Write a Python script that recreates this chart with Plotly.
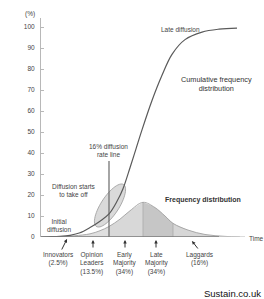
import numpy as np
import plotly.graph_objects as go

# ---- data (time units, percent) ----
cum_t = [0, 7, 19, 29, 39, 49, 59, 68, 76, 82, 89, 95, 101, 111, 121, 131, 144, 161, 178, 196]
cum_v = [0, 0.1, 0.3, 0.8, 2, 4.5, 7.5, 11, 17, 23, 33, 42, 51, 65, 77, 87, 94, 97.6, 99, 99.5]

freq_t = [14, 24, 34, 49, 59, 68, 79, 89, 102, 114, 124, 132, 147, 164, 184, 199]
freq_v = [0, 0.2, 0.6, 1.5, 3, 5, 8.5, 12.5, 16.5, 14, 10, 6.5, 3.3, 1.2, 0.3, 0]

# segment boundaries (indices into freq arrays): innovators | leaders | early | late | laggards
seg_bounds = [(0, 2), (2, 5), (5, 8), (8, 11), (11, 15)]
seg_colors = ["#e8e8e8", "#dfdfdf", "#d8d8d8", "#c6c6c6", "#d6d6d6"]

yticks = [0, 10, 20, 30, 40, 50, 60, 70, 80, 90, 100]

groups = ["Innovators<br>(2.5%)", "Opinion<br>Leaders<br>(13.5%)", "Early<br>Majority<br>(34%)",
          "Late<br>Majority<br>(34%)", "Laggards<br>(16%)"]

FONT = "Arial, Liberation Sans, sans-serif"
PXY = 2.1  # px per percent
L, T, R, B = 41, 18, 245, 237  # plot area in page pixels


def px2paper(px, py):
    return (px - L) / (R - L), (B - py) / (B - T)


fig = go.Figure()

for (a, b), col in zip(seg_bounds, seg_colors):
    fig.add_trace(go.Scatter(x=freq_t[a:b + 1], y=freq_v[a:b + 1], mode="lines",
                             line=dict(shape="spline", width=0, color=col),
                             fill="tozeroy", fillcolor=col, hoverinfo="skip", showlegend=False))

for i in (8, 11):
    fig.add_trace(go.Scatter(x=[freq_t[i], freq_t[i]], y=[0, freq_v[i]], mode="lines",
                             line=dict(color="#aaaaaa", width=0.8), hoverinfo="skip", showlegend=False))

fig.add_trace(go.Scatter(x=freq_t, y=freq_v, mode="lines",
                         line=dict(shape="spline", width=0.9, color="#a0a0a0"),
                         hoverinfo="skip", showlegend=False))

# 16% diffusion rate line
fig.add_trace(go.Scatter(x=[freq_t[5], freq_t[5]], y=[0, 36.2], mode="lines",
                         line=dict(color="#6a6a6a", width=1.2), hoverinfo="skip", showlegend=False))

# cumulative curve
fig.add_trace(go.Scatter(x=cum_t, y=cum_v, mode="lines",
                         line=dict(shape="spline", width=1.2, color="#5a5a5a"),
                         hoverinfo="skip", showlegend=False))

# ellipse "diffusion starts to take off"
cx, cy = 69, 15.0
a_px, b_px = 25, 9
th = np.radians(57)
phi = np.linspace(0, 2 * np.pi, 60)
ex = cx + a_px * np.cos(phi) * np.cos(th) - b_px * np.sin(phi) * np.sin(th)
ey = cy + (a_px * np.cos(phi) * np.sin(th) + b_px * np.sin(phi) * np.cos(th)) / PXY
path = "M " + " L ".join(f"{x:.2f},{y:.2f}" for x, y in zip(ex, ey)) + " Z"
fig.add_shape(type="path", path=path, xref="x", yref="y", layer="below",
              fillcolor="#dadada", line=dict(color="#999999", width=0.8))

# x axis baseline (fading at right)
fig.add_shape(type="line", x0=0, x1=178, y0=0, y1=0, xref="x", yref="y",
              line=dict(color="#7a7a7a", width=1.3))
fig.add_shape(type="line", x0=178, x1=204, y0=0, y1=0, xref="x", yref="y",
              line=dict(color="#c8c8c8", width=1.3))

ann = []


def txt(px, py, s, size=7, color="#444444", xanchor="center", bold=False):
    if bold:
        s = "<b>" + s + "</b>"
    x, y = px2paper(px, py)
    ann.append(dict(x=x, y=y, text=s, showarrow=False, xref="paper", yref="paper", xanchor=xanchor,
                    yanchor="middle", font=dict(size=size, color=color, family=FONT)))


txt(30, 14, "(%)", size=6.5)
txt(180, 29, "Late diffusion", size=6.5)
txt(216, 84.5, "Cumulative frequency<br>distribution", size=7.3, color="#333333")
txt(108, 150.5, "16% diffusion<br>rate line", size=6.5)
txt(74, 190.5, "Diffusion starts<br>to take off", size=6.5)
txt(59, 225.5, "Initial<br>diffusion", size=6.5)
txt(203, 200, "Frequency distribution", size=7, color="#333333", bold=True)
txt(247, 238, "Time", size=6.5, xanchor="left")

label_px = [58, 92, 125, 157, 200]
label_py = [259, 263.5, 263.5, 263.5, 259]
for lx, ly, g in zip(label_px, label_py, groups):
    txt(lx, ly, g, size=6.5)

# arrows: tip (page px) and tail offset (px)
arrows = [(67, 239, -6, 12), (93, 240, 0, 9), (125, 240, 0, 9), (156, 240, 0, 9), (192, 241, 7, 9)]
for x, y, axp, ayp in arrows:
    xp, yp = px2paper(x, y)
    ann.append(dict(x=xp, y=yp, ax=axp, ay=ayp, text="", showarrow=True, arrowhead=2,
                    arrowsize=0.7, arrowwidth=1, arrowcolor="#333333", xref="paper", yref="paper"))

sx, sy = px2paper(263, 293)
ann.append(dict(x=sx, y=sy, xref="paper", yref="paper", xanchor="right", yanchor="middle",
                text="Sustain.co.uk", showarrow=False,
                font=dict(size=9.5, color="#111111", family=FONT)))

fig.update_layout(
    width=264, height=299,
    margin=dict(l=L, r=264 - R, t=T, b=299 - B, pad=0, autoexpand=False),
    paper_bgcolor="white", plot_bgcolor="white",
    annotations=ann,
    xaxis=dict(range=[0, 204], showgrid=False, zeroline=False, showline=False,
               showticklabels=False, ticks="", fixedrange=True),
    yaxis=dict(range=[0, 104.3], showgrid=False, zeroline=False, showline=True,
               linecolor="#b8b8b8", linewidth=1, tickvals=yticks, ticks="inside",
               ticklen=3, tickcolor="#b8b8b8", tickfont=dict(size=6.5, color="#444444", family=FONT),
               ticklabelstandoff=4, fixedrange=True, automargin=False),
    font=dict(family=FONT),
)

fig.write_html("out.html", config={"displayModeBar": False, "staticPlot": True},
               post_script="document.body.style.margin='0';document.body.style.padding='0';")
